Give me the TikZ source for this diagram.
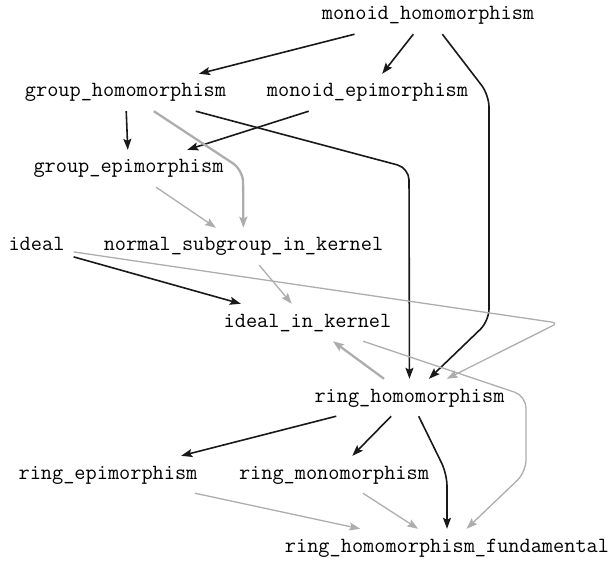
\documentclass[tikz,border=0pt]{standalone}
\usepackage{tikz}
\usetikzlibrary{arrows.meta}
\definecolor{edgegray}{gray}{0.68}
\definecolor{edgeblack}{gray}{0.1}

\begin{document}
\begin{tikzpicture}[x=1pt,y=-1pt,
  thm/.style={anchor=base,font=\fontsize{21.7}{26}\selectfont\ttfamily,
    text height=14pt,text depth=5pt,inner xsep=9pt,inner ysep=9pt},
  dep/.style={-{Stealth[length=11pt,width=8pt,inset=2pt]},line width=1.6pt,edgeblack},
  use/.style={-{Stealth[length=11pt,width=8pt,inset=2pt]},line width=1.3pt,edgegray},
  both/.style={use,line width=2.3pt}]
\useasboundingbox (0,0) rectangle (613,564);
\node[thm] (mh) at (428,20) {monoid\_homomorphism};
\node[thm] (gh) at (125.5,97) {group\_homomorphism};
\node[thm] (me) at (367.5,97) {monoid\_epimorphism};
\node[thm] (ge) at (128.5,173) {group\_epimorphism};
\node[thm] (ideal) at (36.5,251) {ideal};
\node[thm] (nsk) at (243.5,251) {normal\_subgroup\_in\_kernel};
\node[thm] (ik) at (307.5,327) {ideal\_in\_kernel};
\node[thm] (rh) at (409.5,402) {ring\_homomorphism};
\node[thm] (re) at (108,479) {ring\_epimorphism};
\node[thm] (rm) at (334,479) {ring\_monomorphism};
\node[thm] (rhf) at (447,552) {ring\_homomorphism\_fundamental};
\draw[dep] (mh) -- (gh);
\draw[dep] (mh) -- (me);
\draw[dep,rounded corners=12pt] (mh) -- (489,95) -- (489,321) -- (rh);
\draw[dep] (gh) -- (ge);
\draw[dep] (me) -- (ge);
\draw[dep,rounded corners=12pt] (gh) -- (409,168) -- (rh);
\draw[both,rounded corners=12pt] (gh) -- (243,170) -- (nsk);
\draw[use] (ge) -- (nsk);
\draw[dep] (ideal) -- (ik);
\draw[use,rounded corners=6pt] (ideal) -- (558,323) -- (rh);
\draw[use] (nsk) -- (ik);
\draw[both] (rh) -- (ik);
\draw[use,rounded corners=12pt] (ik) -- (526,396) -- (526,472) -- (rhf);
\draw[dep] (rh) -- (re);
\draw[dep] (rh) -- (rm);
\draw[dep,rounded corners=12pt] (rh) -- (447,474) -- (rhf);
\draw[use] (re) -- (rhf);
\draw[use] (rm) -- (rhf);
\end{tikzpicture}
\end{document}
